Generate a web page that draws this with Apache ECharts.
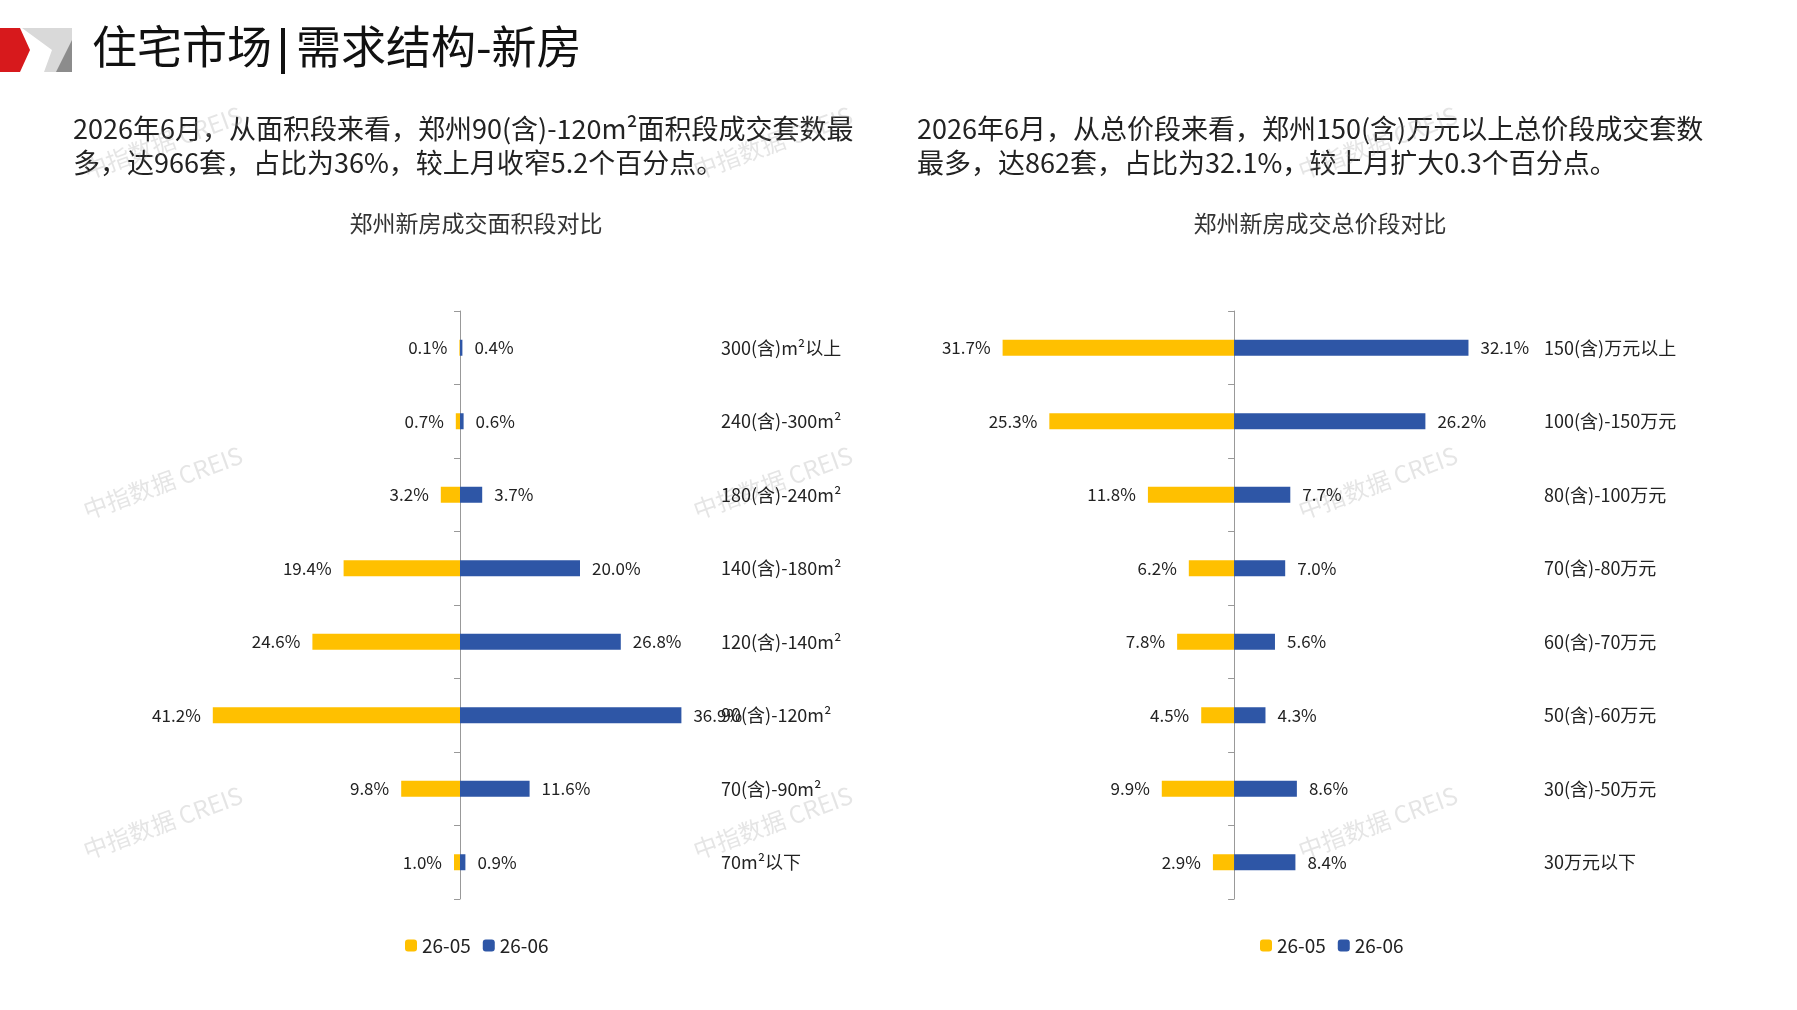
<!DOCTYPE html><html><head><meta charset="utf-8"><script src="https://cdn.jsdelivr.net/npm/echarts@6/dist/echarts.min.js"></script>
<style>body{margin:0;background:#fff}#c{width:1797px;height:1010px}</style></head><body><div id="c"></div><script>
const areaCats=['300(含)m²以上','240(含)-300m²','180(含)-240m²','140(含)-180m²','120(含)-140m²','90(含)-120m²','70(含)-90m²','70m²以下'];
const areaMay=[0.1,0.7,3.2,19.4,24.6,41.2,9.8,1.0];
const areaJun=[0.4,0.6,3.7,20.0,26.8,36.9,11.6,0.9];
const priceCats=['150(含)万元以上','100(含)-150万元','80(含)-100万元','70(含)-80万元','60(含)-70万元','50(含)-60万元','30(含)-50万元','30万元以下'];
const priceMay=[31.7,25.3,11.8,6.2,7.8,4.5,9.9,2.9];
const priceJun=[32.1,26.2,7.7,7.0,5.6,4.3,8.6,8.4];
const Y='#FFC000',B='#2E56A6',F='"Noto Sans CJK SC"';
const ch=echarts.init(document.getElementById('c'));
const fmt=p=>Math.abs(p.value).toFixed(1)+'%';
function bars(gi,may,jun){return[
 {name:'26-05',type:'bar',xAxisIndex:gi,yAxisIndex:gi*2,data:may.map(v=>-v),barWidth:16,barGap:'-100%',itemStyle:{color:Y},label:{show:true,position:'left',formatter:fmt,color:'#222',fontSize:17,fontFamily:F,distance:12}},
 {name:'26-06',type:'bar',xAxisIndex:gi,yAxisIndex:gi*2,data:jun,barWidth:16,barGap:'-100%',itemStyle:{color:B},label:{show:true,position:'right',formatter:fmt,color:'#222',fontSize:17,fontFamily:F,distance:12}}];}
function yaxes(gi,cats){return[
 {type:'category',gridIndex:gi,data:cats,inverse:true,axisLine:{lineStyle:{color:'#999'}},axisTick:{show:true,length:6,lineStyle:{color:'#999'}},axisLabel:{show:false}},
 {type:'category',gridIndex:gi,data:cats,inverse:true,position:'right',axisLine:{show:false},axisTick:{show:false},axisLabel:{color:'#222',fontSize:18,fontFamily:F,margin:12}}];}
const wm=[];
[[80,500],[690,500],[1295,500],[80,840],[690,840],[1295,840],[80,160],[690,160],[1295,160]].forEach(p=>wm.push({type:'text',x:p[0],y:p[1],rotation:Math.PI/9,style:{text:'中指数据 CREIS',fontSize:24,fontFamily:F,fill:'rgba(150,150,150,0.25)'}}));
ch.setOption({
 animation:false,
 graphic:[
  {type:'polygon',shape:{points:[[0,28],[20,28],[30,50],[20,72],[0,72]]},style:{fill:'#D7191C'}},
  {type:'polygon',shape:{points:[[22,28],[72,28],[72,72],[44,72],[52,50]]},style:{fill:'#d9d9d9'}},
  {type:'polygon',shape:{points:[[72,40],[72,72],[56,72]]},style:{fill:'#8c8c8c'}},
  {type:'text',x:92,y:24,style:{text:'住宅市场',fontSize:45,fontFamily:F,fill:'#111'}},
  {type:'rect',shape:{x:281,y:28,width:4,height:46},style:{fill:'#111'}},
  {type:'text',x:296,y:24,style:{text:'需求结构-新房',fontSize:45,fontFamily:F,fill:'#111'}},
  {type:'text',x:73,y:112,style:{text:'2026年6月，从面积段来看，郑州90(含)-120m²面积段成交套数最\n多，达966套，占比为36%，较上月收窄5.2个百分点。',fontSize:27,lineHeight:34,fontFamily:F,fill:'#222'}},
  {type:'text',x:917,y:112,style:{text:'2026年6月，从总价段来看，郑州150(含)万元以上总价段成交套数\n最多，达862套，占比为32.1%，较上月扩大0.3个百分点。',fontSize:27,lineHeight:34,fontFamily:F,fill:'#222'}},
  ...wm
 ],
 title:[{text:'郑州新房成交面积段对比',left:471,top:207,textAlign:'center',textStyle:{fontSize:23,fontWeight:'normal',color:'#333',fontFamily:F}},
        {text:'郑州新房成交总价段对比',left:1315,top:207,textAlign:'center',textStyle:{fontSize:23,fontWeight:'normal',color:'#333',fontFamily:F}}],
 legend:[{data:['26-05','26-06'],left:400,top:931,itemWidth:12,itemHeight:12,itemGap:12,textStyle:{fontSize:19,fontFamily:F,color:'#222'}},
         {data:['26-05','26-06'],left:1255,top:931,itemWidth:12,itemHeight:12,itemGap:12,textStyle:{fontSize:19,fontFamily:F,color:'#222'}}],
 grid:[{left:160,width:549,top:311,height:588},{left:942,width:590,top:311,height:588}],
 xAxis:[{type:'value',gridIndex:0,min:-50,max:41.5,show:false},{type:'value',gridIndex:1,min:-40,max:40.8,show:false}],
 yAxis:[...yaxes(0,areaCats),...yaxes(1,priceCats)],
 series:[...bars(0,areaMay,areaJun),...bars(1,priceMay,priceJun)]
});
</script></body></html>
